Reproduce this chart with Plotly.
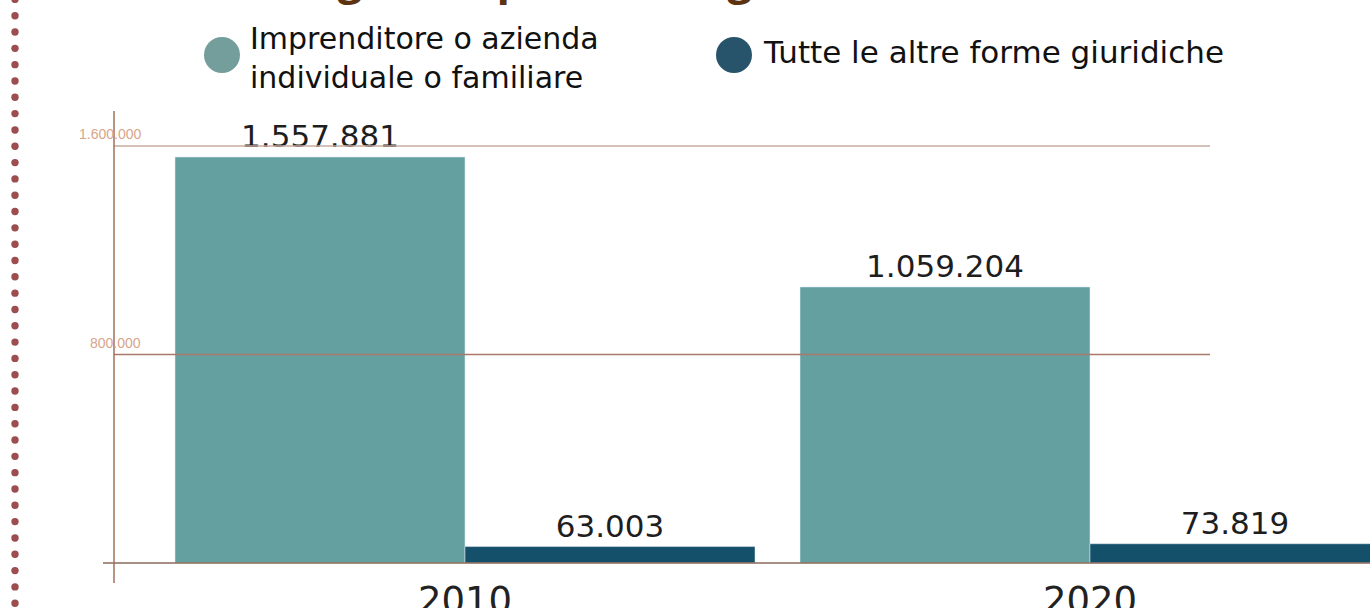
import plotly.graph_objects as go

# --- data
anni = ["2010", "2020"]
serie_nomi = ["Imprenditore o azienda<br>individuale o familiare", "Tutte le altre forme giuridiche"]
impr_individuale = [1557881, 1059204]
altre_forme = [63003, 73819]
y_tick_vals = [800000, 1600000]
y_tick_text = ["800.000", "1.600.000"]
titolo = "Le aziende agricole per forma giuridica nel 2010 e nel 2020"

col_teal = "#65a0a1"
col_blu = "#14506a"
leg_cols = ["#739e9c", "#27546a"]
hand = "'DejaVu Sans', 'Open Sans', sans-serif"

W, H = 1370, 608
L, R, T, B = 114, 0, 111, 33
pw, ph = W - L - R, H - T - B


# pixel -> paper helpers (only for decoration)
def px(x):
    return (x - L) / pw


def py(y):
    return (H - B - y) / ph


fig = go.Figure()
fig.add_trace(go.Bar(x=anni, y=impr_individuale, name=serie_nomi[0], marker_color=col_teal,
                     texttemplate="%{y:,}", textposition="outside", cliponaxis=False))
fig.add_trace(go.Bar(x=anni, y=altre_forme, name=serie_nomi[1], marker_color=col_blu,
                     texttemplate="%{y:,}", textposition="outside", cliponaxis=False))
fig.update_traces(textfont=dict(family=hand, size=31, color="#1e1e1e"), showlegend=False)

shapes = []
# gridlines
grid_cols = ["#a97a6a", "#c9ada0"]
for v, c in zip(y_tick_vals, grid_cols):
    shapes.append(dict(type="line", xref="paper", yref="y", x0=0, x1=px(1210), y0=v, y1=v,
                       line=dict(color=c, width=1.5)))
# baseline
shapes.append(dict(type="line", xref="paper", yref="y", x0=px(103), x1=1, y0=0, y1=0,
                   line=dict(color="#8a6a5a", width=1.5)))
# y axis line, running a bit below the plot area
shapes.append(dict(type="line", xref="paper", yref="paper", x0=0, x1=0, y0=py(583), y1=1,
                   line=dict(color="#a0705a", width=1.5)))
# dotted border on the left
for k in range(-1, 37):
    cy = 15.7 + 16.32 * k
    shapes.append(dict(type="circle", xref="paper", yref="paper", x0=px(11.3), x1=px(18.7),
                       y0=py(cy + 3.7), y1=py(cy - 3.7), fillcolor="#9c4d4f", line_width=0))
# legend circles
for cx, c in zip([222, 734], leg_cols):
    shapes.append(dict(type="circle", xref="paper", yref="paper", x0=px(cx - 18), x1=px(cx + 18),
                       y0=py(73), y1=py(37), fillcolor=c, line_width=0))

annotations = []
for v, t in zip(y_tick_vals, y_tick_text):
    annotations.append(dict(text=t, xref="paper", yref="y", x=px(143), y=v, xanchor="right",
                            yanchor="bottom", yshift=2, showarrow=False,
                            font=dict(family="Arial, 'Liberation Sans'", size=14, color="#d9a58a")))
# legend texts
annotations.append(dict(text=serie_nomi[0], xref="paper", yref="paper", x=px(248), y=py(58),
                        xanchor="left", yanchor="middle", align="left", showarrow=False,
                        font=dict(family=hand, size=30, color="#111111")))
annotations.append(dict(text=serie_nomi[1], xref="paper", yref="paper", x=px(761), y=py(52),
                        xanchor="left", yanchor="middle", align="left", showarrow=False,
                        font=dict(family=hand, size=31, color="#111111")))
# title, mostly above the visible page
annotations.append(dict(text="<b>" + titolo + "</b>", xref="paper", yref="paper", x=px(65), y=py(9),
                        xanchor="left", yanchor="bottom", showarrow=False,
                        font=dict(family="'Open Sans', sans-serif", size=44, color="#5c3310")))

fig.update_layout(
    width=W, height=H,
    margin=dict(l=L, r=R, t=T, b=B, autoexpand=False),
    plot_bgcolor="white", paper_bgcolor="white",
    barmode="group", bargap=0.072, bargroupgap=0,
    separators=",.",
    shapes=shapes, annotations=annotations,
    xaxis=dict(type="category", range=[-0.5616, 1.448], showgrid=False, showline=False,
               zeroline=False, ticks="", ticklen=0, ticklabelstandoff=0, automargin=False,
               tickfont=dict(family=hand, size=37, color="#222222")),
    yaxis=dict(range=[-46047, 1734459], showgrid=False, zeroline=False, showticklabels=False,
               showline=False, ticks="", automargin=False),
)

# drop the default body margin so the figure sits at the page corner
fig.write_html("out.html", config={"displayModeBar": False},
               post_script="document.body.style.margin='0';")
